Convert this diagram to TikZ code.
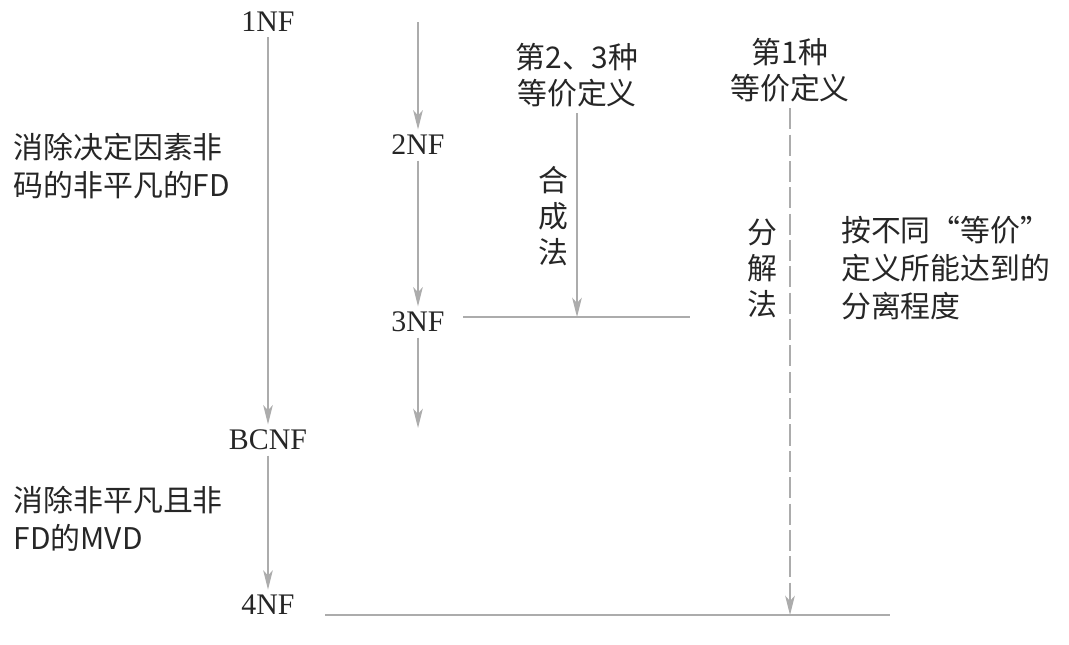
\documentclass[tikz,border=0pt]{standalone}
\usepackage{fontspec}
\setmainfont{Liberation Serif}
\newfontfamily\cjk{Noto Sans CJK SC}
\usetikzlibrary{arrows.meta}

\begin{document}
\begin{tikzpicture}[
        font=\fontsize{17}{21}\selectfont,
        nf/.style={text=black!85, inner sep=3pt},
        lbl/.style={text=black!85, align=left, font=\fontsize{17}{21.5}\selectfont\cjk},
        vlbl/.style={text=black!85, align=center, font=\fontsize{17}{20.5}\selectfont\cjk},
        arr/.style={-{Stealth[length=11pt, width=5.5pt, inset=3pt]}, gray!65, line width=0.7pt},
        rule/.style={gray!65, line width=0.7pt}
      ]
        \useasboundingbox (0,0) rectangle (21.38,-12.9);

        \node[nf] (N1) at (5.36,-0.44) {1NF};
        \node[nf] (N2) at (8.36,-2.9) {2NF};
        \node[nf] (N3) at (8.36,-6.44) {3NF};
        \node[nf] (BC) at (5.36,-8.8) {BCNF};
        \node[nf] (N4) at (5.36,-12.1) {4NF};

        \coordinate (T2) at (8.36,-0.44);
        \coordinate (B2) at (8.36,-8.56);

        \node[lbl, anchor=west] (E1) at (0.15,-3.32) {消除决定因素非\\码的非平凡的FD};
        \node[lbl, anchor=west] (E2) at (0.15,-10.37) {消除非平凡且非\\FD的MVD};

        \node[vlbl] (D23) at (11.54,-1.5) {第2、3种\\等价定义};
        \node[vlbl] (D1)  at (15.8,-1.4) {第1种\\等价定义};
        \node[vlbl] (HC)  at (11.06,-4.32) {合\\成\\法};
        \node[vlbl] (FJ)  at (15.24,-5.36) {分\\解\\法};
        \node[lbl, anchor=west] (NT) at (16.7,-5.36) {按不同“等价”\\定义所能达到的\\分离程度};

        \coordinate (S3) at (11.54,-6.34);
        \coordinate (L3a) at (9.26,-6.34);
        \coordinate (L3b) at (13.8,-6.34);
        \coordinate (S4) at (15.8,-12.3);
        \coordinate (L4a) at (6.5,-12.3);
        \coordinate (L4b) at (17.8,-12.3);

        \draw[arr] (N1) -- (BC);
        \draw[arr] (BC) -- (N4);
        \draw[arr] (T2) -- (N2);
        \draw[arr] (N2) -- (N3);
        \draw[arr] (N3) -- (B2);

        \draw[rule] (L3a) -- (L3b);
        \draw[rule] (L4a) -- (L4b);
        \draw[arr] (D23) -- (S3);
        \draw[arr, dash pattern=on 12pt off 3pt] (D1) -- (S4);
      \end{tikzpicture}
\end{document}
